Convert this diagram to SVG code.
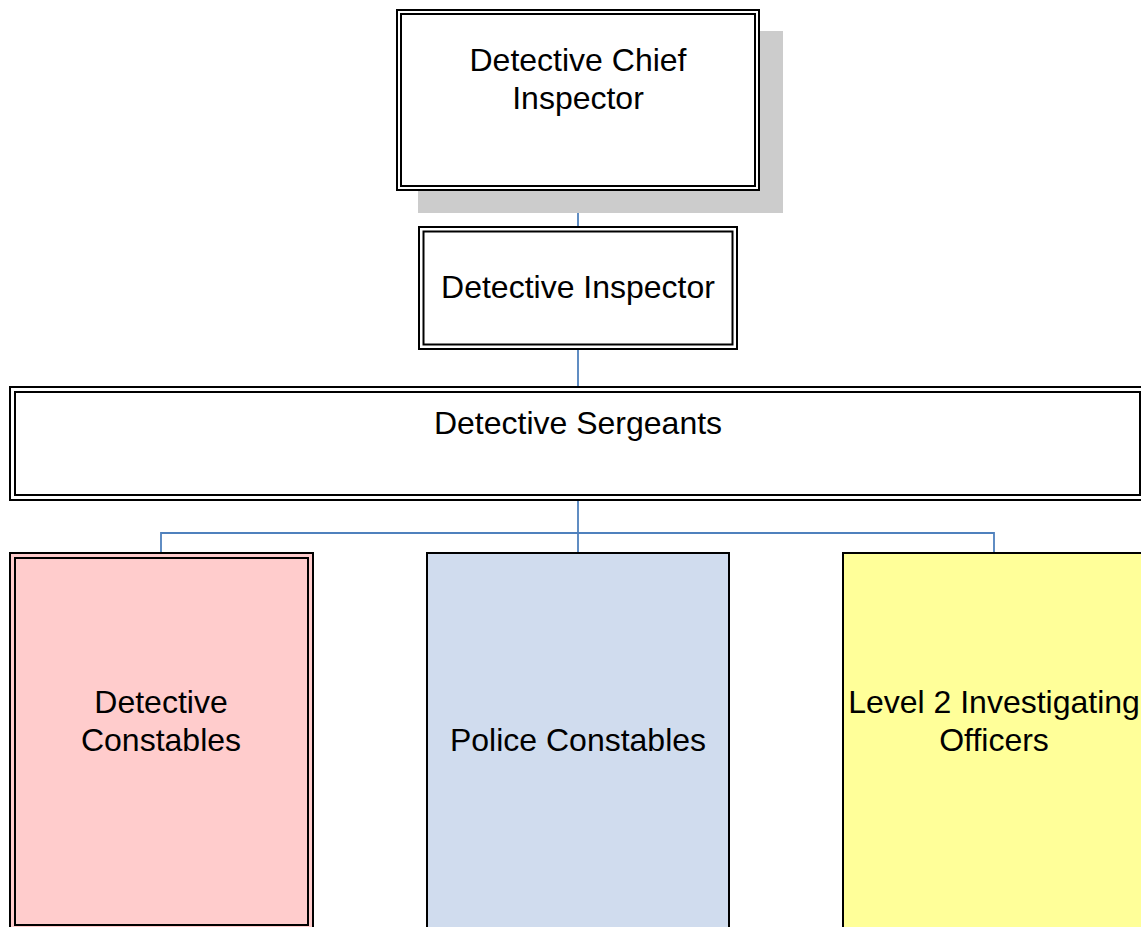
<svg xmlns="http://www.w3.org/2000/svg" width="1141" height="927" viewBox="0 0 1141 927">
<style>
.frame{fill:none;stroke:#000;stroke-width:2}
.box{stroke:#000;stroke-width:2}
.lbl{font-family:"Liberation Sans",Arial,sans-serif;font-size:32px;fill:#000;text-anchor:middle}
.conn{fill:none;stroke:#4F81BD;stroke-width:1.8}
</style>
<rect width="1141" height="927" fill="#fff"/>
<g id="connectors">
<line class="conn" x1="578" y1="190" x2="578" y2="227"/>
<line class="conn" x1="578" y1="349" x2="578" y2="387"/>
<line class="conn" x1="578" y1="500" x2="578" y2="553"/>
<polyline class="conn" points="161,553 161,533 994,533 994,553"/>
</g>
<g id="dci">
<rect x="418" y="31" width="365" height="182" fill="#CCCCCC"/>
<rect x="397" y="10" width="362" height="180" fill="#fff" class="box"/>
<rect x="401" y="14" width="354" height="172" class="frame"/>
<text class="lbl" x="578" y="71">Detective Chief</text>
<text class="lbl" x="578" y="109">Inspector</text>
</g>
<g id="di">
<rect x="419" y="227" width="318" height="122" fill="#fff" class="box"/>
<rect x="423.5" y="231.5" width="309" height="113" class="frame"/>
<text class="lbl" x="578" y="298">Detective Inspector</text>
</g>
<g id="ds">
<rect x="10" y="387" width="1140" height="113" fill="#fff" class="box"/>
<rect x="15" y="392" width="1125" height="103" class="frame"/>
<text class="lbl" x="578" y="434">Detective Sergeants</text>
</g>
<g id="dc">
<rect x="10" y="553" width="303" height="380" fill="#FFCCCC" class="box"/>
<rect x="15" y="558" width="293" height="367" class="frame"/>
<text class="lbl" x="161" y="713">Detective</text>
<text class="lbl" x="161" y="751">Constables</text>
</g>
<g id="pc">
<rect x="427" y="553" width="302" height="380" fill="#D0DCEE" class="box"/>
<text class="lbl" x="578" y="751">Police Constables</text>
</g>
<g id="l2">
<rect x="843" y="553" width="310" height="380" fill="#FFFF99" class="box"/>
<text class="lbl" x="994" y="713">Level 2 Investigating</text>
<text class="lbl" x="994" y="751">Officers</text>
</g>
</svg>
